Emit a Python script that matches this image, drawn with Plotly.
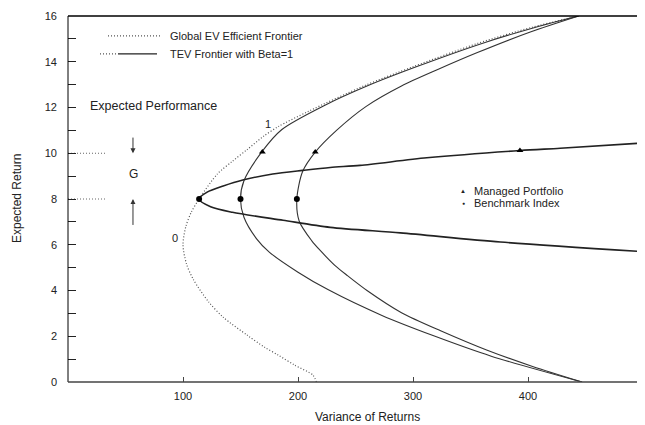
import plotly.graph_objects as go

# ---------------- data ----------------
global_var = [216, 213, 197, 183, 171, 156, 135, 122, 109, 103, 100, 102.5, 107, 114, 130, 143, 156, 170, 183, 209, 258, 301, 356, 403, 444]
global_ret = [0, 0.3, 0.74, 1.17, 1.52, 2.04, 2.83, 3.52, 4.48, 5.17, 6.0, 6.8, 7.4, 8.0, 9.1, 9.65, 10.17, 10.74, 11.17, 11.83, 12.96, 13.8, 14.8, 15.5, 16.0]

tev_b_var = [447, 368, 318, 273, 226, 200, 175, 164, 153, 150, 153, 169, 186, 223, 261, 304, 360, 406, 444]
tev_b_ret = [0, 1.13, 2.02, 2.91, 4.04, 4.8, 5.68, 6.26, 7.2, 8.0, 8.8, 10.09, 11.04, 12.09, 12.96, 13.8, 14.8, 15.5, 16.0]

tev_c_var = [447, 404, 364, 324.5, 290, 260, 243, 232, 219.5, 212, 201, 199, 204, 215, 233.5, 259, 290, 322, 356, 402, 444]
tev_c_ret = [0, 0.68, 1.4, 2.23, 3.03, 4.0, 4.65, 5.1, 5.74, 6.17, 7.04, 8.0, 9.2, 10.05, 11.0, 12.04, 12.94, 13.67, 14.4, 15.3, 16.0]

flat_var = [500, 376, 289, 228, 187, 143, 124, 114, 121, 135, 152, 178, 204, 228, 254, 312, 393, 428, 500]
flat_ret = [5.7, 6.12, 6.52, 6.76, 7.07, 7.42, 7.66, 8.0, 8.3, 8.57, 8.83, 9.09, 9.25, 9.38, 9.47, 9.8, 10.12, 10.22, 10.45]

bench_var = [114, 150, 199]
bench_ret = [8.0, 8.0, 8.0]

managed_var = [169, 215, 393]
managed_ret = [10.05, 10.05, 10.12]

guide_ret = [10, 8]
guide_var_end = 33

arrow_var = 56.5
gain_top, gain_bottom = 10.0, 8.0

y_ticks = list(range(0, 17))
y_tick_text = [str(v) if v % 2 == 0 else "" for v in y_ticks]
x_ticks = [100, 200, 300, 400]

FONT = "Liberation Sans, Arial, sans-serif"

fig = go.Figure()

fig.add_trace(go.Scatter(x=global_var, y=global_ret, mode="lines",
                         line=dict(color="#555", width=1.2, dash="1px,2px", shape="spline", smoothing=0.8),
                         showlegend=False, hoverinfo="skip"))
fig.add_trace(go.Scatter(x=tev_b_var, y=tev_b_ret, mode="lines",
                         line=dict(color="#333", width=1.1, shape="spline", smoothing=0.8),
                         showlegend=False, hoverinfo="skip"))
fig.add_trace(go.Scatter(x=tev_c_var, y=tev_c_ret, mode="lines",
                         line=dict(color="#333", width=1.1, shape="spline", smoothing=0.8),
                         showlegend=False, hoverinfo="skip"))
fig.add_trace(go.Scatter(x=flat_var, y=flat_ret, mode="lines",
                         line=dict(color="#222", width=1.6, shape="spline", smoothing=0.8),
                         showlegend=False, hoverinfo="skip"))

for r in guide_ret:
    fig.add_trace(go.Scatter(x=[0, guide_var_end], y=[r, r], mode="lines",
                             line=dict(color="#666", width=1, dash="1px,2px"),
                             showlegend=False, hoverinfo="skip"))

fig.add_trace(go.Scatter(x=bench_var, y=bench_ret, mode="markers",
                         marker=dict(symbol="circle", size=6, color="black"),
                         showlegend=False, hoverinfo="skip"))
fig.add_trace(go.Scatter(x=managed_var, y=managed_ret, mode="markers",
                         marker=dict(symbol="triangle-up", size=6, color="black"),
                         showlegend=False, hoverinfo="skip"))

# page pixel -> paper helpers (page has an 8px body margin; plot area spans 68..643 x 14..382 on the page)
def px(xp):
    return (xp - 68) / 575

def py(yp):
    return (382 - yp) / 368

shapes = [
    dict(type="line", xref="paper", yref="paper", x0=0, x1=0, y0=0, y1=1, line=dict(color="black", width=1)),
    dict(type="line", xref="paper", yref="paper", x0=0, x1=1, y0=0, y1=0, line=dict(color="#444", width=1.5)),
    dict(type="line", xref="paper", yref="paper", x0=0, x1=1, y0=1, y1=1, line=dict(color="black", width=1.5)),
    dict(type="line", xref="paper", yref="paper", x0=1, x1=1, y0=0, y1=1, line=dict(color="#666", width=1, dash="1px,2px")),
    dict(type="line", xref="paper", yref="paper", x0=px(108), x1=px(160), y0=py(34), y1=py(34),
         line=dict(color="#555", width=1.2, dash="1px,2px")),
    dict(type="line", xref="paper", yref="paper", x0=px(100), x1=px(118), y0=py(52), y1=py(52),
         line=dict(color="#555", width=1.2, dash="1px,2px")),
    dict(type="line", xref="paper", yref="paper", x0=px(118), x1=px(157), y0=py(52), y1=py(52),
         line=dict(color="#222", width=1.3)),
]

annotations = [
    dict(text="Global EV Efficient Frontier", xref="paper", yref="paper", x=px(168), y=py(34),
         xanchor="left", yanchor="middle", showarrow=False, font=dict(size=11, color="#222", family=FONT)),
    dict(text="TEV Frontier with Beta=1", xref="paper", yref="paper", x=px(168), y=py(52),
         xanchor="left", yanchor="middle", showarrow=False, font=dict(size=11, color="#222", family=FONT)),
    dict(text="Expected Performance", xref="paper", yref="paper", x=px(88), y=py(104),
         xanchor="left", yanchor="middle", showarrow=False, font=dict(size=12.5, color="#222", family=FONT)),
    dict(text="G", xref="paper", yref="paper", x=px(133), y=py(173),
         xanchor="center", yanchor="middle", showarrow=False, font=dict(size=12, color="#222", family=FONT)),
    dict(text="0", x=93, y=6.3, xanchor="center", yanchor="middle", showarrow=False,
         font=dict(size=11, color="#222", family=FONT)),
    dict(text="1", x=174, y=11.3, xanchor="center", yanchor="middle", showarrow=False,
         font=dict(size=11, color="#222", family=FONT)),
    dict(text="\u25b2", xref="paper", yref="paper", x=px(463), y=py(190),
         xanchor="center", yanchor="middle", showarrow=False, font=dict(size=6, color="#222", family=FONT)),
    dict(text="Managed Portfolio", xref="paper", yref="paper", x=px(472), y=py(190),
         xanchor="left", yanchor="middle", showarrow=False, font=dict(size=11, color="#222", family=FONT)),
    dict(text="\u25cf", xref="paper", yref="paper", x=px(463), y=py(202),
         xanchor="center", yanchor="middle", showarrow=False, font=dict(size=5, color="#222", family=FONT)),
    dict(text="Benchmark Index", xref="paper", yref="paper", x=px(472), y=py(202),
         xanchor="left", yanchor="middle", showarrow=False, font=dict(size=11, color="#222", family=FONT)),
    dict(text="Variance of Returns", xref="paper", yref="paper", x=px(367), y=py(417),
         xanchor="center", yanchor="middle", showarrow=False, font=dict(size=12, color="#222", family=FONT)),
    dict(text="Expected Return", xref="paper", yref="paper", x=px(17), y=py(198), textangle=-90,
         xanchor="center", yanchor="middle", showarrow=False, font=dict(size=12, color="#222", family=FONT)),
    dict(x=arrow_var, y=gain_top, ax=arrow_var, ay=gain_top + 0.75, axref="x", ayref="y",
         showarrow=True, arrowhead=2, arrowsize=1, arrowwidth=1, arrowcolor="#333", text=""),
    dict(x=arrow_var, y=gain_bottom, ax=arrow_var, ay=gain_bottom - 1.2, axref="x", ayref="y",
         showarrow=True, arrowhead=2, arrowsize=1, arrowwidth=1, arrowcolor="#333", text=""),
]

# figure is 637x417 so that, with the browser's 8px body margin, it fills the 645x425 window
fig.update_layout(
    width=637, height=417,
    margin=dict(l=60, r=2, t=6, b=43),
    paper_bgcolor="white", plot_bgcolor="white",
    showlegend=False,
    shapes=shapes, annotations=annotations,
    font=dict(family=FONT, color="#222"),
)
fig.update_xaxes(range=[0, 500], showgrid=False, zeroline=False, showline=False,
                 tickvals=x_ticks, ticks="inside", ticklen=5, tickwidth=1, tickcolor="#444",
                 tickfont=dict(size=11, family=FONT, color="#222"), ticklabelstandoff=6,
                 ticklabeloverflow="allow")
fig.update_yaxes(range=[0, 16], showgrid=False, zeroline=False, showline=False,
                 tickvals=y_ticks, ticktext=y_tick_text, ticks="inside", ticklen=8, tickwidth=1.3,
                 tickcolor="#222", tickfont=dict(size=11, family=FONT, color="#222"), ticklabelstandoff=10,
                 ticklabeloverflow="allow")

fig.write_html("out.html")
